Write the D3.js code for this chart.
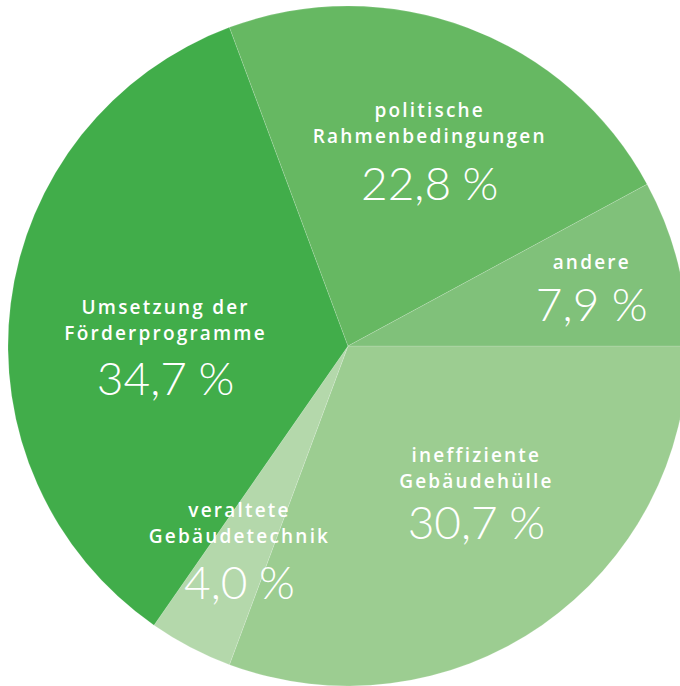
<!DOCTYPE html>
<html>
<head>
<meta charset="utf-8">
<script src="https://cdn.jsdelivr.net/npm/d3@7"></script>
<style>
  html, body { margin: 0; padding: 0; background: #fff; }
  svg { display: block; }
  .name { font-family: 'Open Sans', sans-serif; font-weight: 600; font-size: 19px; letter-spacing: 2.2px; fill: #fff; }
  .pct { font-family: 'Lato', sans-serif; font-weight: 300; font-size: 46px; fill: #fff; }
</style>
</head>
<body>
<div id="chart"></div>
<script>
// categories in drawing order, clockwise from 3 o'clock
const categories = ['ineffiziente Gebäudehülle', 'veraltete Gebäudetechnik', 'Umsetzung der Förderprogramme', 'politische Rahmenbedingungen', 'andere']
const nameLines = [['ineffiziente', 'Gebäudehülle'], ['veraltete', 'Gebäudetechnik'], ['Umsetzung der', 'Förderprogramme'], ['politische', 'Rahmenbedingungen'], ['andere']]
const shares = [30.7, 4.0, 34.7, 22.8, 7.9]
const shareLabels = ['30,7\u202F%', '4,0\u202F%', '34,7\u202F%', '22,8\u202F%', '7,9 %']

const colors = ['#9ccd91', '#b4d8ab', '#41ad4a', '#66b862', '#80c17a']

// label nudges from the centroid of the label ring (layout only)
const labelNudge = {
  'ineffiziente Gebäudehülle': { dx: 12, dy: 25, gap: 51 },
  'veraltete Gebäudetechnik': { dx: -14, dy: 72, gap: 56 },
  'Umsetzung der Förderprogramme': { dx: 20, dy: 75, gap: 55 },
  'politische Rahmenbedingungen': { dx: 10, dy: 45, gap: 57 },
  'andere': { dx: 46, dy: 25, gap: 52 }
}

const width = 680
const height = 686
const cx = 348
const cy = 346
const radius = 340
const lineHeight = 26

const data = categories.map((c, i) => ({ name: c, lines: nameLines[i], value: shares[i], label: shareLabels[i], color: colors[i] }))

const svg = d3.select('#chart').append('svg')
  .attr('width', width)
  .attr('height', height)

const g = svg.append('g')
  .attr('transform', 'translate(' + cx + ',' + cy + ')')

const pie = d3.pie()
  .sort(null)
  .value(d => d.value)
  .startAngle(Math.PI / 2)
  .endAngle(Math.PI / 2 + 2 * Math.PI)

const arc = d3.arc().innerRadius(0).outerRadius(radius)
const labelArc = d3.arc().innerRadius(radius * 0.6).outerRadius(radius * 0.6)

const arcs = pie(data)

g.selectAll('.slice')
  .data(arcs)
  .join('path')
  .attr('class', 'slice')
  .attr('d', arc)
  .attr('fill', d => d.data.color)
  .attr('stroke', 'rgba(255,255,255,0.25)')
  .attr('stroke-width', 0.6)

const labels = g.selectAll('.label')
  .data(arcs)
  .join('g')
  .attr('class', 'label')
  .attr('transform', d => {
    const c = labelArc.centroid(d)
    const n = labelNudge[d.data.name]
    return 'translate(' + (c[0] + n.dx) + ',' + (c[1] + n.dy) + ')'
  })

labels.each(function (d) {
  const sel = d3.select(this)
  const n = labelNudge[d.data.name]
  const k = d.data.lines.length
  d.data.lines.forEach((line, i) => {
    sel.append('text')
      .attr('class', 'name')
      .attr('text-anchor', 'middle')
      .attr('y', -n.gap - (k - 1 - i) * lineHeight)
      .text(line)
  })
  sel.append('text')
    .attr('class', 'pct')
    .attr('text-anchor', 'middle')
    .attr('y', 0)
    .text(d.data.label)
})
</script>
</body>
</html>
